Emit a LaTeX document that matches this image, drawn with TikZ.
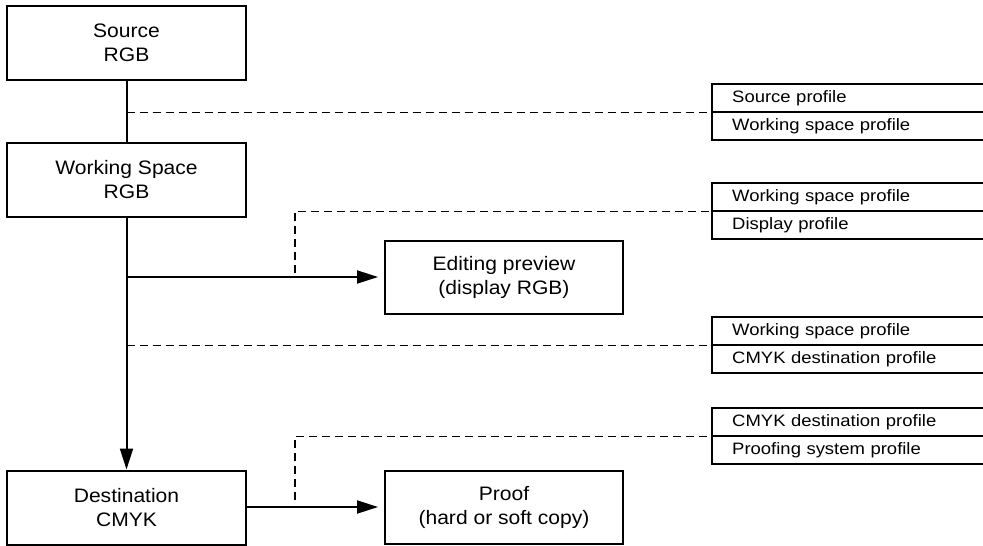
\documentclass[tikz,border=0pt]{standalone}
\usepackage{fontspec}
\setmainfont{Liberation Sans}
\newfontfamily\boxfont[FakeStretch=1.08]{Liberation Sans}
\newfontfamily\proffont[FakeStretch=1.12]{Liberation Sans}
\usetikzlibrary{arrows.meta}
\begin{document}
\begin{tikzpicture}[x=1pt,y=-1pt,
  box/.style={draw, line width=2pt, minimum width=239pt, minimum height=74pt,
    align=center, inner sep=0pt, font=\boxfont\fontsize{19.5}{24}\selectfont},
  rbox/.style={box, minimum width=238pt, minimum height=73pt},
  prow/.style={anchor=north west, minimum height=28pt, minimum width=271pt,
    inner xsep=20pt, inner ysep=0pt, text width=231pt, align=left,
    font=\proffont\fontsize{16.5}{19}\selectfont},
  conn/.style={line width=2pt},
  pline/.style={line width=2pt},
  dline/.style={line width=1.8pt, dash pattern=on 8pt off 5pt},
  arr/.style={conn, -{Triangle[length=21pt,width=13pt]}}
]
\useasboundingbox (0,0) rectangle (983,546);

% main boxes
\node[box] (src) at (126.5,43) {Source\\RGB};
\node[box] (ws) at (126.5,180) {Working Space\\RGB};
\node[box] (dst) at (126.5,507.5) {Destination\\CMYK};
\node[rbox] (ed) at (504,277) {Editing preview\\(display RGB)};
\node[rbox] (pr) at (504,507) {Proof\\(hard or soft copy)};

% profile rows
\node[prow] (p1a) at (712,84) {Source profile};
\node[prow] (p1b) at (712,112) {Working space profile};
\node[prow] (p2a) at (712,183) {Working space profile};
\node[prow] (p2b) at (712,211) {Display profile};
\node[prow] (p3a) at (712,317) {Working space profile};
\node[prow] (p3b) at (712,345) {CMYK destination profile};
\node[prow] (p4a) at (712,408) {CMYK destination profile};
\node[prow] (p4b) at (712,436) {Proofing system profile};

\foreach \g in {1,2,3,4}{
  \draw[pline] (p\g a.north east) -- (p\g a.north west) -- (p\g b.south west) -- (p\g b.south east);
  \draw[pline] (p\g a.south west) -- (p\g a.south east);
}

% connectors
\draw[conn] (src.south) -- (ws.north);
\draw[arr] (ws.south) -- (dst.north);
\coordinate (b1) at (ws.south |- ed.west);
\draw[arr, shorten >=6pt] (b1) -- (ed.west);
\draw[arr, shorten >=6pt] (dst.east |- pr.west) -- (pr.west);

% dashed profile links
\draw[dline] (src.south |- p1a.south west) -- (p1a.south west);
\coordinate (d2) at (295,273);
\draw[dline] (d2) |- (p2a.south west);
\draw[dline] (ws.south |- p3a.south west) -- (p3a.south west);
\coordinate (d4) at (295,500);
\draw[dline] (d4) |- (p4a.south west);
\end{tikzpicture}
\end{document}
